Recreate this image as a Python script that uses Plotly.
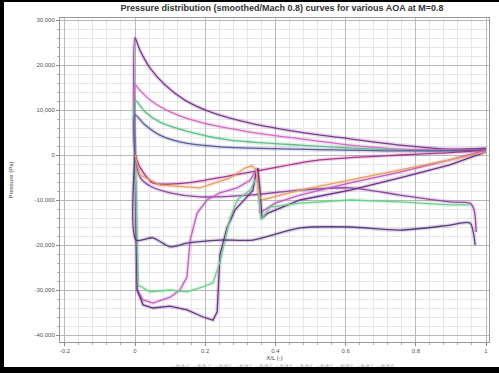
import plotly.graph_objects as go

# ---- data (x/c, pressure in Pa) ----
names = ["AOA -2°", "AOA -1°", "AOA 0°", "AOA 1°", "AOA 2°", "AOA 3°", "AOA 4°", "AOA 5°", "AOA 6°", "AOA 7°", "AOA 8°"]
colors = ["#7a3b8f", "#d46bc4", "#5cc08a", "#5a5a9c", "#a8358f", "#8e4aa0",
          "#c060c0", "#6a2f86", "#6fcf8f", "#5b3a7e", "#e8a060"]
smooth = [True, True, True, True, True, True, False, False, False, True, False]

xA = [0, 0, 0.014, 0.043, 0.085, 0.142, 0.214, 0.328, 0.470, 0.613, 0.755, 0.897, 1.0]
yA = [0, 26000, 23300, 19300, 15600, 12200, 9600, 7100, 5100, 3600, 2200, 1300, 1500]

xB = [0, 0, 0.014, 0.043, 0.1, 0.185, 0.328, 0.470, 0.613, 0.755, 1.0]
yB = [0, 15600, 14400, 12200, 9600, 7300, 5100, 3600, 2200, 1300, 1100]

xC = [0, 0, 0.028, 0.071, 0.157, 0.271, 0.470, 0.755, 1.0]
yC = [0, 12200, 9600, 7300, 5100, 3300, 2200, 1100, 900]

xD = [0, 0, 0.028, 0.071, 0.128, 0.242, 0.470, 0.755, 1.0]
yD = [0, 8900, 6700, 4400, 2900, 1800, 1300, 900, 1100]

xE = [0, 0.014, 0.051, 0.148, 0.328, 0.527, 0.755, 0.869, 1.0]
yE = [0, -2700, -6200, -6200, -3800, -1100, 0, 400, 1100]

xF = [0, 0.014, 0.043, 0.1, 0.185, 0.328, 0.470, 0.613, 0.755, 0.897, 0.954, 0.966, 0.972]
yF = [0, -4900, -6900, -8400, -9300, -8900, -7800, -7300, -8900, -10400, -10700, -12200, -17100]

xG = [0, 0.006, 0.023, 0.051, 0.1, 0.128, 0.148, 0.157, 0.177, 0.205, 0.242, 0.291, 0.328,
      0.342, 0.350, 0.356, 0.370, 0.399, 0.470, 0.613, 0.755, 0.897, 1.0]
yG = [0, -30000, -32200, -32900, -31600, -30000, -27100, -18900, -12900, -10000, -8400, -7300, -5600,
      -3800, -4700, -12700, -12200, -10700, -8900, -6200, -3800, -1100, 1100]

xH = [0, 0.006, 0.023, 0.051, 0.1, 0.148, 0.194, 0.222, 0.234, 0.242, 0.262, 0.285, 0.319,
      0.336, 0.345, 0.350, 0.356, 0.362, 0.379, 0.413, 0.470, 0.613, 0.755, 0.897, 1.0]
yH = [0, -30000, -33300, -34000, -33600, -34400, -36000, -36700, -34900, -22200, -16200, -12200, -9300,
      -7800, -3800, -2900, -7800, -14000, -12900, -11800, -10000, -7800, -5100, -2200, 700]

xI = [0, 0.009, 0.043, 0.1, 0.148, 0.194, 0.222, 0.242, 0.271, 0.291, 0.328, 0.342, 0.350,
      0.359, 0.385, 0.470, 0.613, 0.755, 0.897, 0.954]
yI = [0, -28900, -30400, -30000, -30400, -29300, -28400, -23800, -14000, -10000, -7800, -5600, -6200,
      -14400, -11600, -10700, -10000, -10400, -11100, -11100]

xJ = [0, 0.003, 0.051, 0.1, 0.148, 0.242, 0.336, 0.470, 0.613, 0.755, 0.897, 0.954, 0.969]
yJ = [0, -18900, -18400, -20400, -19600, -18900, -18900, -16200, -16000, -16700, -15600, -15100, -20000]

xK = [0, 0.014, 0.071, 0.185, 0.271, 0.313, 0.333, 0.345, 0.353, 0.362, 0.470, 0.613, 0.755, 0.897, 1.0]
yK = [0, -4400, -6700, -7300, -5100, -2900, -2400, -3300, -8900, -10000, -7800, -5600, -3300, -1100, 700]

xs = [xA, xB, xC, xD, xE, xF, xG, xH, xI, xJ, xK]
ys = [yA, yB, yC, yD, yE, yF, yG, yH, yI, yJ, yK]

x_tickvals = [-0.2, 0, 0.2, 0.4, 0.6, 0.8, 1.0]
x_ticktext = ["-0.2", "0", "0.2", "0.4", "0.6", "0.8", "1"]
y_tickvals = [30000, 20000, 10000, 0, -10000, -20000, -30000, -40000]
y_ticktext = ["30,000", "20,000", "10,000", "0", "-10,000", "-20,000", "-30,000", "-40,000"]

title = "Pressure distribution (smoothed/Mach 0.8) curves for various AOA at M=0.8"

fig = go.Figure()
for x, y, c, s in zip(xs, ys, colors, smooth):
    shp = dict(shape="spline", smoothing=0.7) if s else dict(shape="linear")
    fig.add_trace(go.Scatter(x=x, y=y, mode="lines", line=dict(color=c, width=4, **shp),
                             opacity=0.18, showlegend=False, hoverinfo="skip"))
for x, y, c, n, s in zip(xs, ys, colors, names, smooth):
    shp = dict(shape="spline", smoothing=0.7) if s else dict(shape="linear")
    fig.add_trace(go.Scatter(x=x, y=y, mode="lines", name=n, line=dict(color=c, width=1.3, **shp),
                             showlegend=False))

W, H = 499, 373
L, R, T, B = 60, 10, 18, 31
pw, ph = W - L - R, H - T - B

def px(p):
    return (p - L) / pw

def py(p):
    return 1 - (p - T) / ph

legend_text = "  ".join("— " + n for n in names)

fig.update_layout(
    width=W, height=H,
    margin=dict(l=L, r=R, t=T, b=B),
    paper_bgcolor="white", plot_bgcolor="white",
    font=dict(family="Liberation Sans, Arial", size=6, color="#555"),
    title=dict(text="<b>" + title + "</b>", x=(282 / W), xanchor="center", y=1 - 8 / H, yanchor="middle",
               font=dict(size=9, color="#333")),
    xaxis=dict(range=[-0.2137, 1.0085], tickvals=x_tickvals, ticktext=x_ticktext,
               showgrid=True, gridcolor="#b8b8b8", gridwidth=1,
               minor=dict(dtick=0.04, showgrid=True, gridcolor="#e6e6e6", ticks="outside", ticklen=2, tickcolor="#aaa"),
               ticks="outside", ticklen=3, tickcolor="#888",
               showline=True, linecolor="#999", mirror=True, zeroline=False,
               title=dict(text="X/L (-)", font=dict(size=6, color="#444"), standoff=2),
               tickfont=dict(size=6, color="#555")),
    yaxis=dict(range=[-41556, 30444], tickvals=y_tickvals, ticktext=y_ticktext,
               showgrid=True, gridcolor="#b8b8b8", gridwidth=1,
               minor=dict(dtick=2000, showgrid=True, gridcolor="#e6e6e6", ticks="outside", ticklen=2, tickcolor="#aaa"),
               ticks="outside", ticklen=3, tickcolor="#888",
               showline=True, linecolor="#999", mirror=True, zeroline=False,
               title=dict(text="Pressure (Pa)", font=dict(size=6, color="#444"), standoff=20),
               tickfont=dict(size=6, color="#555")),
    annotations=[dict(text=legend_text, xref="paper", yref="paper", x=px(283), y=py(365),
                      xanchor="center", yanchor="middle", showarrow=False,
                      font=dict(size=4, color="#aaa"))],
    shapes=[
        dict(type="rect", xref="paper", yref="paper", x0=px(0), x1=px(4), y0=py(H), y1=py(0),
             fillcolor="black", line=dict(width=0), layer="above"),
        dict(type="rect", xref="paper", yref="paper", x0=px(0), x1=px(W), y0=py(H), y1=py(367),
             fillcolor="black", line=dict(width=0), layer="above"),
        dict(type="rect", xref="paper", yref="paper", x0=px(0), x1=px(W), y0=py(2), y1=py(0),
             fillcolor="black", line=dict(width=0), layer="above"),
    ],
)

fig.write_html("out.html")
